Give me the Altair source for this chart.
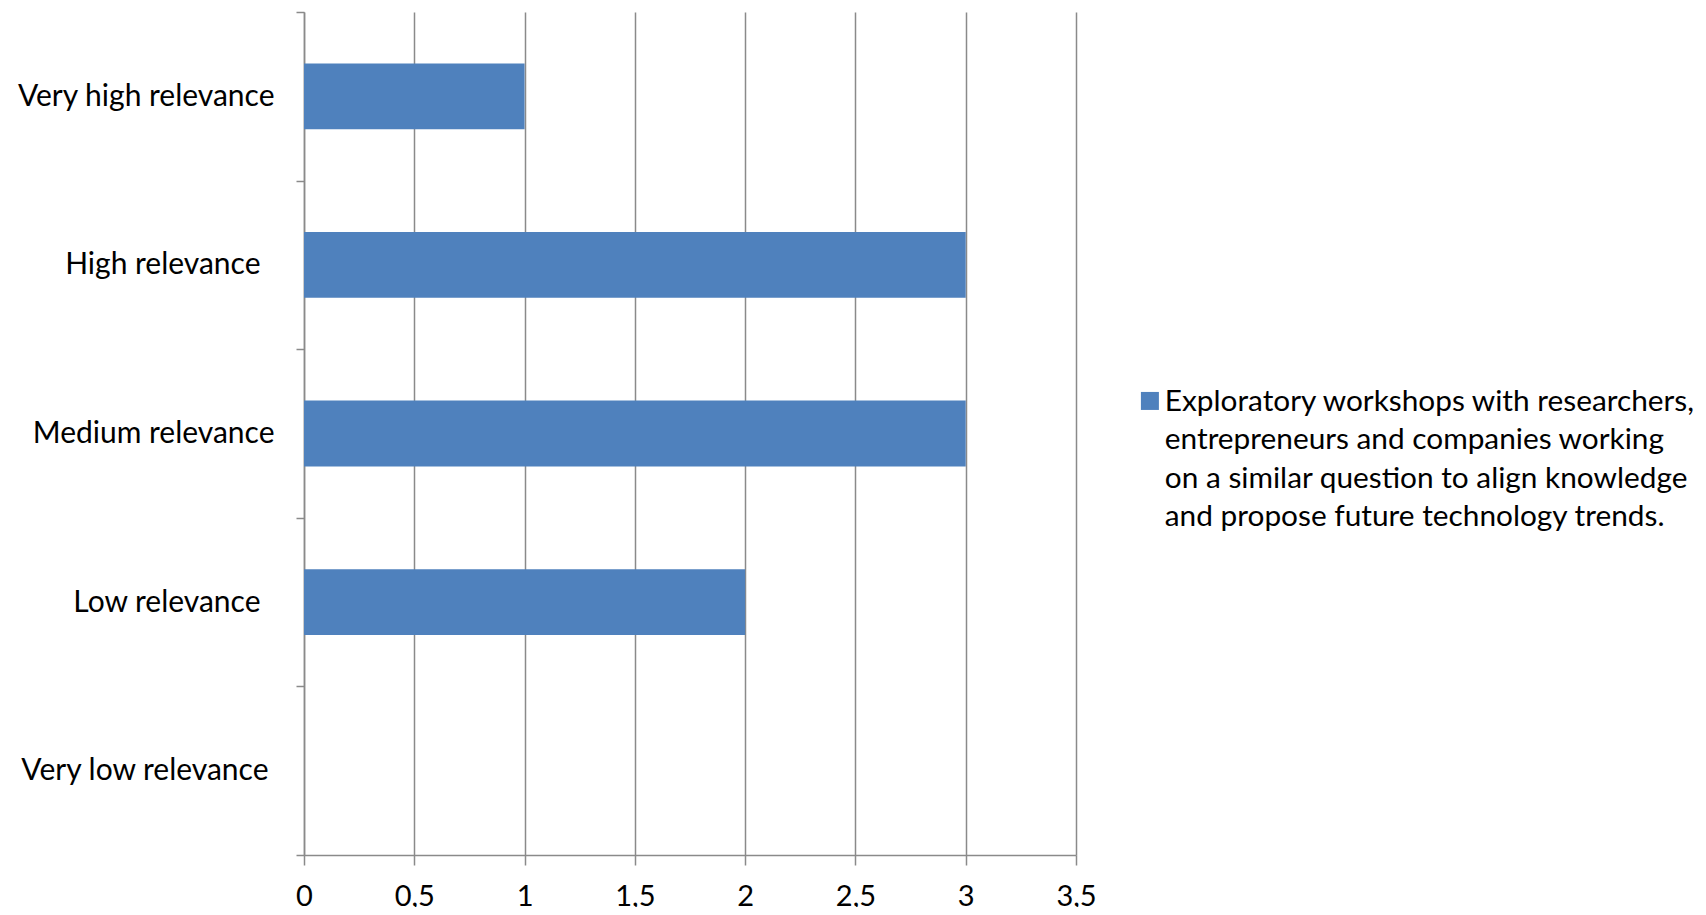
import altair as alt
import pandas as pd
import json

categories = ["Very high relevance", "High relevance", "Medium relevance", "Low relevance", "Very low relevance"]
values = [1, 3, 3, 2, 0]
series_lines = [
    "Exploratory workshops with researchers,",
    "entrepreneurs and companies working",
    "on a similar question to align knowledge",
    "and propose future technology trends.",
]
series_name = " ".join(series_lines)
x_ticks = [0, 0.5, 1, 1.5, 2, 2.5, 3, 3.5]

df = pd.DataFrame({
    "category": categories,
    "value": values,
    "series": [series_name] * len(categories),
})

FONT = "Lato"
FS = 30
GRID = "#8a8a8a"

# labels in the reference carry trailing spaces, which shift them left
label_padding = {
    "condition": [
        {"test": "datum.label == 'High relevance' || datum.label == 'Low relevance'", "value": 36},
        {"test": "datum.label == 'Very low relevance'", "value": 28},
    ],
    "value": 22,
}

chart = alt.Chart(df).mark_bar(
    height=alt.RelativeBandSize(band=0.39), color="#4F81BD"
).encode(
    x=alt.X(
        "value:Q",
        scale=alt.Scale(domain=[0, 3.5], nice=False, zero=True),
        axis=alt.Axis(
            title=None, values=x_ticks, grid=True, gridColor=GRID, gridWidth=1.5,
            domainColor=GRID, domainWidth=1.5, tickColor=GRID, tickWidth=1.5, tickSize=10,
            labelFont=FONT, labelFontSize=29, labelColor="#000000", labelPadding=17,
            labelBaseline="top",
            labelExpr="replace(toString(datum.value), '.', ',')", labelFlush=False,
        ),
    ),
    y=alt.Y(
        "category:N", sort=categories,
        scale=alt.Scale(paddingInner=0, paddingOuter=0),
        axis=alt.Axis(
            title=None, grid=False, tickBand="extent",
            domainColor=GRID, domainWidth=1.5, tickColor=GRID, tickWidth=1.5, tickSize=8,
            labelFont=FONT, labelFontSize=FS, labelColor="#000000", labelPadding=label_padding,
            labelLimit=400,
        ),
    ),
    color=alt.Color(
        "series:N",
        scale=alt.Scale(range=["#4F81BD"]),
        legend=alt.Legend(
            title=None, orient="none", legendX=831, legendY=360,
            symbolType="M-1,0.56L1,0.56L1,2.56L-1,2.56Z", symbolSize=324, symbolStrokeWidth=0,
            labelFont=FONT, labelFontSize=29.8, labelColor="#000000",
            labelExpr=json.dumps(series_lines), labelLimit=1000, labelOffset=0,
            padding=0, labelBaseline="top",
        ),
    ),
).properties(
    width=772, height=843,
    padding={"left": 296, "top": 4, "right": 620, "bottom": 52},
    autosize=alt.AutoSizeParams(type="none"),
    background="#ffffff",
).configure(
    style={"guide-label": {"lineHeight": 38.5}},
    view=alt.ViewConfig(stroke=None),
)

chart.save("out.html", embed_options={"renderer": "svg", "actions": False})
